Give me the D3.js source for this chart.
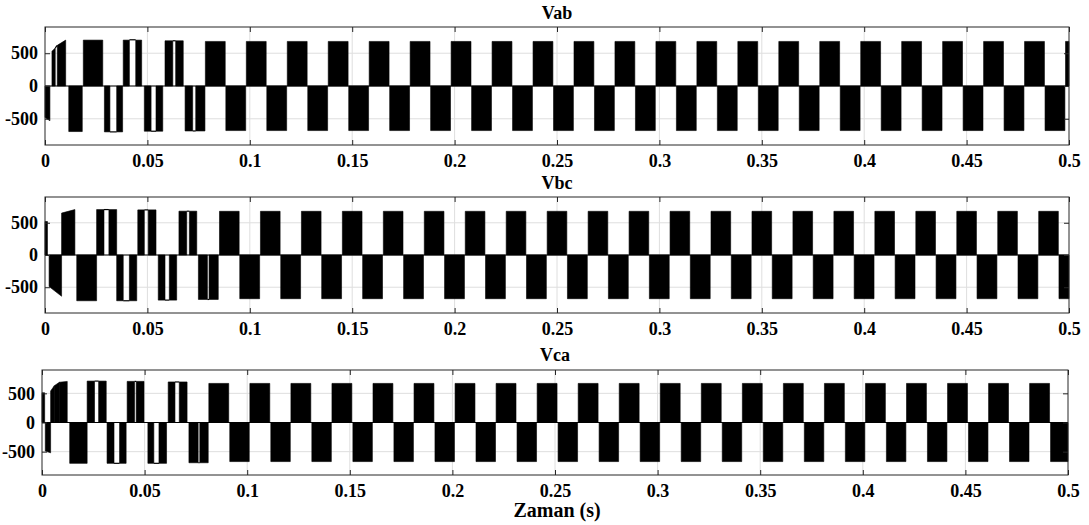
<!DOCTYPE html>
<html>
<head>
<meta charset="utf-8">
<script src="https://cdn.jsdelivr.net/npm/d3@7"></script>
<style>
  body { margin: 0; background: #fff; }
  svg { display: block; }
  text { font-family: "Liberation Serif", "Times New Roman", serif; font-weight: bold; fill: #000; }
</style>
</head>
<body>
<svg id="chart" width="1089" height="525"></svg>
<script>
// ---- axes ----
const xTicks = [0, 0.05, 0.1, 0.15, 0.2, 0.25, 0.3, 0.35, 0.4, 0.45, 0.5];
const xTickLabels = ["0", "0.05", "0.1", "0.15", "0.2", "0.25", "0.3", "0.35", "0.4", "0.45", "0.5"];
const yTicks = [-500, 0, 500];
const yTickLabels = ["-500", "0", "500"];
const timeDomain = [0, 0.5];
const voltDomain = [-900, 900];
const panelTitles = ["Vab", "Vbc", "Vca"];
const xAxisTitle = "Zaman (s)";

// ---- start-up interval: [t0, t1, v0, v1, kind]; kind "p" = switching band (filled to 0), "h" = held level ----
const vabStartup = [
  [0.0000, 0.0024, -480, -530, "p"],
  [0.0034, 0.0050, 530, 580, "p"],
  [0.0050, 0.0060, 580, 620, "h"],
  [0.0060, 0.0101, 620, 700, "p"],
  [0.0116, 0.0182, -695, -695, "p"],
  [0.0187, 0.0282, 700, 700, "p"],
  [0.0290, 0.0317, -700, -700, "p"],
  [0.0317, 0.0350, -700, -700, "h"],
  [0.0350, 0.0379, -700, -700, "p"],
  [0.0382, 0.0412, 700, 700, "p"],
  [0.0412, 0.0443, 705, 705, "h"],
  [0.0443, 0.0472, 700, 700, "p"],
  [0.0485, 0.0518, -690, -690, "p"],
  [0.0518, 0.0542, -690, -690, "h"],
  [0.0542, 0.0575, -690, -690, "p"],
  [0.0586, 0.0624, 690, 690, "p"],
  [0.0624, 0.0638, 690, 690, "h"],
  [0.0638, 0.0675, 690, 690, "p"],
  [0.0684, 0.0721, -686, -686, "p"],
  [0.0721, 0.0736, -686, -686, "h"],
  [0.0736, 0.0781, -686, -686, "p"]
];
const vbcStartup = [
  [0.0000, 0.0012, 520, 520, "p"],
  [0.0020, 0.0081, -490, -640, "p"],
  [0.0081, 0.0146, 650, 705, "p"],
  [0.0155, 0.0252, -710, -710, "p"],
  [0.0252, 0.0288, 705, 705, "p"],
  [0.0288, 0.0312, 705, 705, "h"],
  [0.0312, 0.0350, 705, 705, "p"],
  [0.0350, 0.0382, -710, -710, "p"],
  [0.0382, 0.0412, -710, -710, "h"],
  [0.0412, 0.0448, -710, -710, "p"],
  [0.0453, 0.0485, 700, 700, "p"],
  [0.0485, 0.0504, 700, 700, "h"],
  [0.0504, 0.0542, 700, 700, "p"],
  [0.0553, 0.0586, -700, -700, "p"],
  [0.0586, 0.0607, -700, -700, "h"],
  [0.0607, 0.0643, -700, -700, "p"],
  [0.0654, 0.0692, 680, 680, "p"],
  [0.0692, 0.0705, 680, 680, "h"],
  [0.0705, 0.0741, 680, 680, "p"],
  [0.0749, 0.0793, -690, -690, "p"],
  [0.0793, 0.0801, -690, -690, "h"],
  [0.0801, 0.0846, -690, -690, "p"]
];
const vcaStartup = [
  [0.0000, 0.0013, 510, 510, "p"],
  [0.0016, 0.0042, -490, -520, "p"],
  [0.0042, 0.0060, 540, 630, "p"],
  [0.0060, 0.0085, 630, 690, "p"],
  [0.0085, 0.0123, 690, 705, "p"],
  [0.0135, 0.0220, -700, -700, "p"],
  [0.0220, 0.0256, 710, 710, "p"],
  [0.0256, 0.0276, 710, 710, "h"],
  [0.0276, 0.0313, 710, 710, "p"],
  [0.0317, 0.0351, -700, -700, "p"],
  [0.0351, 0.0378, -700, -700, "h"],
  [0.0378, 0.0410, -700, -700, "p"],
  [0.0415, 0.0451, 705, 705, "p"],
  [0.0451, 0.0459, 705, 705, "h"],
  [0.0459, 0.0497, 705, 705, "p"],
  [0.0516, 0.0545, -700, -700, "p"],
  [0.0545, 0.0570, -700, -700, "h"],
  [0.0570, 0.0607, -700, -700, "p"],
  [0.0615, 0.0648, 695, 695, "p"],
  [0.0648, 0.0669, 695, 695, "h"],
  [0.0669, 0.0707, 695, 695, "p"],
  [0.0716, 0.0761, -690, -690, "p"],
  [0.0761, 0.0769, -690, -690, "h"],
  [0.0769, 0.0810, -690, -690, "p"]
];

// ---- steady operation: positive and negative switching bands [t0, t1] ----
const vabLevel = 680;
const vabPositive = [
  [0.0783, 0.0880], [0.0983, 0.1080], [0.1183, 0.1280], [0.1383, 0.1480], [0.1583, 0.1680],
  [0.1783, 0.1880], [0.1983, 0.2080], [0.2183, 0.2280], [0.2383, 0.2480], [0.2583, 0.2680],
  [0.2783, 0.2880], [0.2983, 0.3080], [0.3183, 0.3280], [0.3383, 0.3480], [0.3583, 0.3680],
  [0.3783, 0.3880], [0.3983, 0.4080], [0.4183, 0.4280], [0.4383, 0.4480], [0.4583, 0.4680],
  [0.4783, 0.4880], [0.4983, 0.5000]
];
const vabNegative = [
  [0.0883, 0.0980], [0.1083, 0.1180], [0.1283, 0.1380], [0.1483, 0.1580], [0.1683, 0.1780],
  [0.1883, 0.1980], [0.2083, 0.2180], [0.2283, 0.2380], [0.2483, 0.2580], [0.2683, 0.2780],
  [0.2883, 0.2980], [0.3083, 0.3180], [0.3283, 0.3380], [0.3483, 0.3580], [0.3683, 0.3780],
  [0.3883, 0.3980], [0.4083, 0.4180], [0.4283, 0.4380], [0.4483, 0.4580], [0.4683, 0.4780],
  [0.4883, 0.4980]
];
const vbcLevel = 678;
const vbcPositive = [
  [0.0852, 0.0948], [0.1052, 0.1148], [0.1252, 0.1348], [0.1452, 0.1548], [0.1652, 0.1748],
  [0.1852, 0.1948], [0.2052, 0.2148], [0.2252, 0.2348], [0.2452, 0.2548], [0.2652, 0.2748],
  [0.2852, 0.2948], [0.3052, 0.3148], [0.3252, 0.3348], [0.3452, 0.3548], [0.3652, 0.3748],
  [0.3852, 0.3948], [0.4052, 0.4148], [0.4252, 0.4348], [0.4452, 0.4548], [0.4652, 0.4748],
  [0.4852, 0.4948]
];
const vbcNegative = [
  [0.0951, 0.1048], [0.1151, 0.1248], [0.1351, 0.1448], [0.1551, 0.1648], [0.1751, 0.1848],
  [0.1951, 0.2048], [0.2151, 0.2248], [0.2351, 0.2448], [0.2551, 0.2648], [0.2751, 0.2848],
  [0.2951, 0.3048], [0.3151, 0.3248], [0.3351, 0.3448], [0.3551, 0.3648], [0.3751, 0.3848],
  [0.3951, 0.4048], [0.4151, 0.4248], [0.4351, 0.4448], [0.4551, 0.4648], [0.4751, 0.4848],
  [0.4951, 0.5000]
];
const vcaLevel = 670;
const vcaPositive = [
  [0.0813, 0.0910], [0.1013, 0.1110], [0.1213, 0.1310], [0.1413, 0.1510], [0.1613, 0.1710],
  [0.1813, 0.1910], [0.2013, 0.2110], [0.2213, 0.2310], [0.2413, 0.2510], [0.2613, 0.2710],
  [0.2813, 0.2910], [0.3013, 0.3110], [0.3213, 0.3310], [0.3413, 0.3510], [0.3613, 0.3710],
  [0.3813, 0.3910], [0.4013, 0.4110], [0.4213, 0.4310], [0.4413, 0.4510], [0.4613, 0.4710],
  [0.4813, 0.4910]
];
const vcaNegative = [
  [0.0915, 0.1010], [0.1115, 0.1210], [0.1315, 0.1410], [0.1515, 0.1610], [0.1715, 0.1810],
  [0.1915, 0.2010], [0.2115, 0.2210], [0.2315, 0.2410], [0.2515, 0.2610], [0.2715, 0.2810],
  [0.2915, 0.3010], [0.3115, 0.3210], [0.3315, 0.3410], [0.3515, 0.3610], [0.3715, 0.3810],
  [0.3915, 0.4010], [0.4115, 0.4210], [0.4315, 0.4410], [0.4515, 0.4610], [0.4715, 0.4810],
  [0.4915, 0.5000]
];

// ---- layout ----
const panelBoxes = [
  { left: 45, right: 1069, top: 27, bottom: 145, titleY: 19 },
  { left: 45, right: 1069, top: 197, bottom: 313, titleY: 189 },
  { left: 42, right: 1068, top: 370, bottom: 475, titleY: 361 }
];

function bandsToSegments(startup, positive, negative, level) {
  const segs = startup.map(r => ({ t0: r[0], t1: r[1], v0: r[2], v1: r[3], kind: r[4] }));
  positive.forEach(r => segs.push({ t0: r[0], t1: r[1], v0: level, v1: level, kind: "p" }));
  negative.forEach(r => segs.push({ t0: r[0], t1: r[1], v0: -level, v1: -level, kind: "p" }));
  return segs;
}

const panelSegments = [
  bandsToSegments(vabStartup, vabPositive, vabNegative, vabLevel),
  bandsToSegments(vbcStartup, vbcPositive, vbcNegative, vbcLevel),
  bandsToSegments(vcaStartup, vcaPositive, vcaNegative, vcaLevel)
];

const svg = d3.select("#chart");
const frameColor = "#262626";
const gridColor = "#dedede";
const tickLen = 5;
const labelFont = "'Liberation Serif', 'Times New Roman', serif";

panelBoxes.forEach((box, i) => {
  const x = d3.scaleLinear().domain(timeDomain).range([box.left, box.right]);
  const y = d3.scaleLinear().domain(voltDomain).range([box.bottom, box.top]);
  const g = svg.append("g");

  // grid
  g.append("g").selectAll("line").data(xTicks.slice(1, -1)).join("line")
    .attr("x1", d => x(d)).attr("x2", d => x(d))
    .attr("y1", box.top).attr("y2", box.bottom)
    .attr("stroke", gridColor).attr("stroke-width", 1);
  g.append("g").selectAll("line").data(yTicks).join("line")
    .attr("x1", box.left).attr("x2", box.right)
    .attr("y1", d => y(d)).attr("y2", d => y(d))
    .attr("stroke", gridColor).attr("stroke-width", 1);

  // zero trace
  g.append("line")
    .attr("x1", x(timeDomain[0])).attr("x2", x(timeDomain[1]))
    .attr("y1", y(0)).attr("y2", y(0))
    .attr("stroke", "#000").attr("stroke-width", 1);

  const segs = panelSegments[i];
  const band = d3.area()
    .x(d => x(d.t)).y0(y(0)).y1(d => y(d.v));
  g.append("g").selectAll("path").data(segs.filter(s => s.kind === "p")).join("path")
    .attr("d", s => band([{ t: s.t0, v: s.v0 }, { t: s.t1, v: s.v1 }]))
    .attr("fill", "#000").attr("stroke", "#000").attr("stroke-width", 0.6);
  const held = d3.line().x(d => x(d.t)).y(d => y(d.v));
  g.append("g").selectAll("path").data(segs.filter(s => s.kind === "h")).join("path")
    .attr("d", s => held([{ t: s.t0, v: s.v0 }, { t: s.t1, v: s.v1 }]))
    .attr("fill", "none").attr("stroke", "#000").attr("stroke-width", 1.2);

  // axes
  const bottomAxis = d3.axisBottom(x).tickValues(xTicks)
    .tickFormat((d, k) => xTickLabels[k]).tickSizeInner(-tickLen).tickSizeOuter(0).tickPadding(9);
  const topAxis = d3.axisTop(x).tickValues(xTicks).tickFormat("").tickSizeInner(-tickLen).tickSizeOuter(0);
  const leftAxis = d3.axisLeft(y).tickValues(yTicks)
    .tickFormat((d, k) => yTickLabels[k]).tickSizeInner(-tickLen).tickSizeOuter(0).tickPadding(7);
  const rightAxis = d3.axisRight(y).tickValues(yTicks).tickFormat("").tickSizeInner(-tickLen).tickSizeOuter(0);

  const axes = [
    g.append("g").attr("transform", `translate(0,${box.bottom})`).call(bottomAxis),
    g.append("g").attr("transform", `translate(0,${box.top})`).call(topAxis),
    g.append("g").attr("transform", `translate(${box.left},0)`).call(leftAxis),
    g.append("g").attr("transform", `translate(${box.right},0)`).call(rightAxis)
  ];
  axes.forEach(a => {
    a.select(".domain").remove();
    a.selectAll(".tick line").attr("stroke", frameColor);
    a.selectAll("text").attr("font-size", 18).attr("fill", "#000")
      .style("font-family", labelFont).style("font-weight", "bold");
  });

  g.append("rect")
    .attr("x", box.left).attr("y", box.top)
    .attr("width", box.right - box.left).attr("height", box.bottom - box.top)
    .attr("fill", "none").attr("stroke", frameColor).attr("stroke-width", 1);

  svg.append("text")
    .attr("x", (box.left + box.right) / 2).attr("y", box.titleY)
    .attr("text-anchor", "middle").attr("font-size", 18)
    .text(panelTitles[i]);
});

svg.append("text")
  .attr("x", 557).attr("y", 517)
  .attr("text-anchor", "middle").attr("font-size", 20)
  .text(xAxisTitle);
</script>
</body>
</html>
